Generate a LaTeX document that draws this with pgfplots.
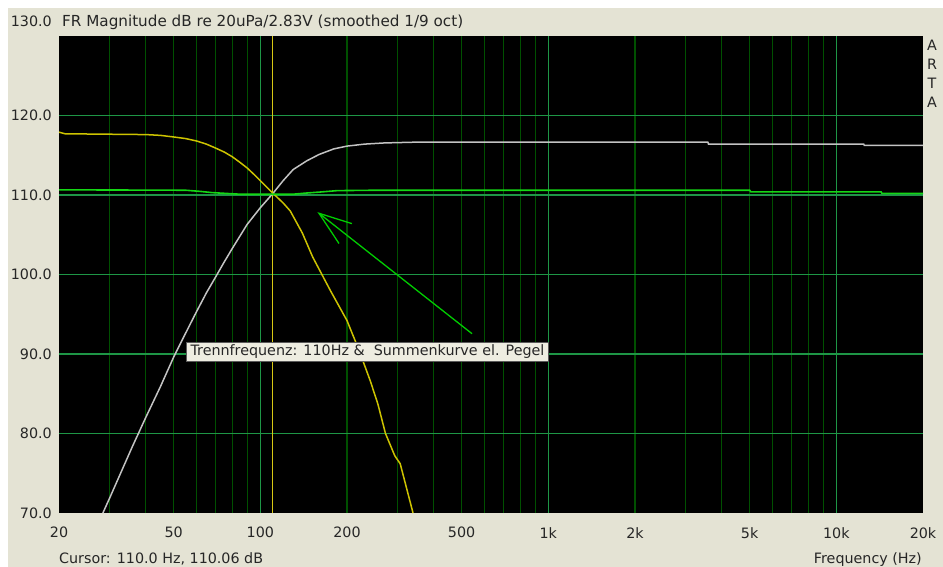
\documentclass[border=0pt]{standalone}
\usepackage{fontspec}
\setmainfont{DejaVu Sans}
\usepackage{pgfplots}
\pgfplotsset{compat=1.18}
\definecolor{bg}{RGB}{228,227,212}
\definecolor{boxbg}{RGB}{238,237,225}
\definecolor{boxborder}{RGB}{90,90,90}
\definecolor{gridminor}{RGB}{0,80,0}
\definecolor{gridmajor}{RGB}{30,150,70}
\definecolor{sumgreen}{RGB}{20,215,20}
\definecolor{hpgray}{RGB}{195,195,195}
\definecolor{lpyellow}{RGB}{205,195,0}
\definecolor{cursoryellow}{RGB}{215,200,20}
\definecolor{arrowgreen}{RGB}{0,205,0}
\newcommand\fs{\fontsize{14.3bp}{17bp}\selectfont}
\newcommand\fst{\fontsize{15.2bp}{18bp}\selectfont}
\begin{document}
\begin{tikzpicture}
\fill[white] (-59bp,-54bp) rectangle (884bp,513bp);
\fill[bg] (-51bp,-54bp) rectangle (884bp,505bp);
\begin{axis}[
  at={(0,0)}, anchor=south west, scale only axis,
  width=864bp, height=477bp,
  xmode=log, xmin=20, xmax=20000, ymin=70, ymax=130,
  axis background/.style={fill=black},
  axis line style={draw=none},
  tick style={draw=none},
  xtick={20,50,100,200,500,1000,2000,5000,10000,20000},
  xticklabels={20,50,100,200,500,1k,2k,5k,10k,20k},
  ytick={80,90,100,110,120},
  yticklabels={80.0,90.0,100.0,110.0,120.0},
  /pgf/number format/assume math mode=true,
  xticklabel style={anchor=north, inner sep=0pt, yshift=-14bp, font=\fs, text=black!85},
  yticklabel style={anchor=east, inner sep=0pt, xshift=-7bp, font=\fs, text=black!85},
]
% grid lines
\pgfplotsinvokeforeach{30,40,50,60,70,80,90,200,300,400,500,600,700,800,900,2000,3000,4000,5000,6000,7000,8000,9000}{
  \draw[gridminor, line width=1.2bp] (axis cs:#1,70) -- (axis cs:#1,130);}
\pgfplotsinvokeforeach{100,1000,10000}{
  \draw[gridmajor, line width=1.2bp] (axis cs:#1,70) -- (axis cs:#1,130);}
\pgfplotsinvokeforeach{80,90,100,110,120}{
  \draw[gridmajor, line width=1.2bp] (axis cs:20,#1) -- (axis cs:20000,#1);}
% cursor line
\addplot[cursoryellow, line width=1.3bp] coordinates {(110,70) (110,130)};
% high pass (white/gray)
\addplot[hpgray, line width=1.5bp] coordinates {
(28.4,70.0)(30,71.9)(33,75.3)(36,78.4)(40,82.0)(45,85.9)(50,89.6)(55,92.6)(60,95.3)
(65,97.7)(70,99.7)(75,101.6)(80,103.3)(90,106.3)(100,108.4)(110,110.1)(120,111.8)
(130,113.2)(145,114.3)(160,115.1)(180,115.8)(200,116.15)(230,116.4)(270,116.55)
(350,116.65)(3580,116.65)(3600,116.4)(12450,116.4)(12500,116.25)(20000,116.25)};
% low pass (yellow)
\addplot[lpyellow, line width=1.5bp] coordinates {
(20,117.9)(21,117.7)(40,117.6)(45,117.5)(50,117.3)(55,117.1)(60,116.8)(65,116.4)
(70,115.9)(75,115.4)(80,114.8)(85,114.1)(90,113.4)(95,112.6)(100,111.8)(110,110.3)
(120,109.0)(127,108.0)(140,105.2)(152,102.2)(175,98.0)(200,94.2)(220,90.5)(241,86.6)
(256,83.7)(272,80.0)(293,77.2)(306,76.2)(320,73.5)(339,70.0)};
% sum (green)
\addplot[sumgreen, line width=1.6bp] coordinates {
(20,110.65)(55,110.6)(62,110.45)(68,110.3)(76,110.2)(85,110.1)(130,110.1)(145,110.25)
(165,110.4)(185,110.55)(250,110.6)(5000,110.6)(5050,110.4)(14300,110.4)(14400,110.2)(20000,110.2)};
% arrow
\addplot[arrowgreen, line width=1.3bp] coordinates {(543.5,92.55) (159.9,107.7)};
\addplot[arrowgreen, line width=1.3bp] coordinates {(208,106.4) (159.9,107.7) (187.6,103.9)};
% annotation box
\node[fill=boxbg, draw=boxborder, line width=0.7bp, inner xsep=4bp, inner ysep=0pt,
      minimum height=19bp, anchor=west, font=\fs, text=black!85]
  at (axis cs:55.3,90.25) {Trennfrequenz: 110Hz \&\ \ Summenkurve el. Pegel};
\end{axis}
% texts outside axis
\node[anchor=base west, inner sep=0pt, font=\fst, text=black!85] at (3bp,486bp)
  {FR Magnitude dB re 20uPa/2.83V (smoothed 1/9 oct)};
\node[anchor=base east, inner sep=0pt, font=\fs, text=black!85] at (-7bp,486bp) {130.0};
\node[anchor=east, inner sep=0pt, font=\fs, text=black!85] at (-7bp,0bp) {70.0};
\node[anchor=base west, inner sep=0pt, font=\fs, text=black!85] at (0bp,-50.5bp)
  {Cursor: 110.0 Hz, 110.06 dB};
\node[anchor=base east, inner sep=0pt, font=\fs, text=black!85] at (863bp,-50.5bp)
  {Frequency (Hz)};
\node[anchor=north, inner sep=0pt, align=center, font=\fontsize{14.3bp}{19bp}\selectfont, text=black!85]
  at (873bp,473bp) {A\\R\\T\\A};
\pgfresetboundingbox
\path[use as bounding box] (-59bp,-54bp) rectangle (884bp,513bp);
\end{tikzpicture}
\end{document}
